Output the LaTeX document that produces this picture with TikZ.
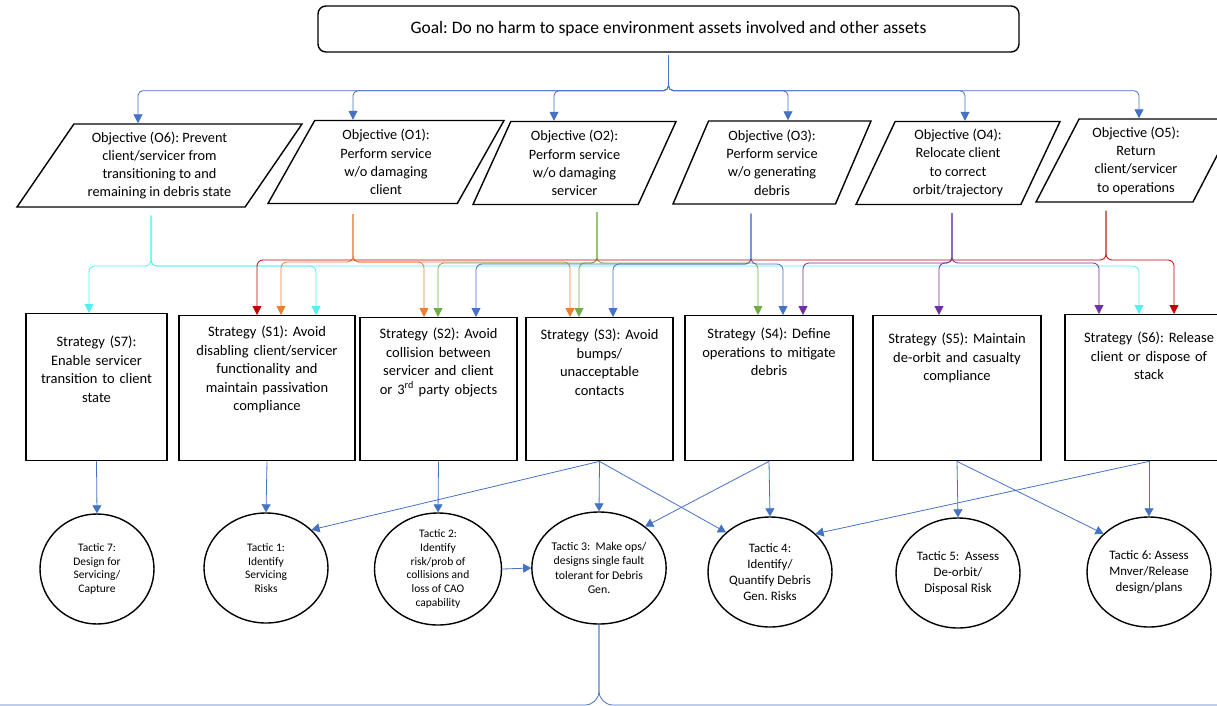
\documentclass[tikz,border=0pt]{standalone}
\usepackage{fontspec}
\setmainfont{Carlito}
\usetikzlibrary{arrows.meta,shapes.geometric}
\definecolor{lnblue}{HTML}{4472C4}
\definecolor{lnorange}{HTML}{ED7D31}
\definecolor{lngreen}{HTML}{70AD47}
\definecolor{lnpurple}{HTML}{7030A0}
\definecolor{lnred}{HTML}{C00000}
\definecolor{lncyan}{HTML}{55EEF2}
\newcommand{\fsz}[2]{\fontsize{#1}{#2}\selectfont}
\frenchspacing

\begin{document}
\begin{tikzpicture}[x=1pt,y=-1pt,
 goalbox/.style={draw,line width=1.4pt,rounded corners=8pt,minimum width=701pt,minimum height=46pt,font=\fsz{17.5}{21}},
 obj/.style={trapezium,draw,line width=1.4pt,trapezium left angle=#1,trapezium right angle=180-#1,
   trapezium stretches body,minimum height=83pt,inner sep=0pt,align=center,font=\fsz{14.3}{18.3}},
 strat/.style={draw,line width=1.4pt,anchor=north,inner sep=0pt,align=center,
   text height=21pt,text depth=124pt,font=\fsz{14.5}{18.5}},
 tac/.style={ellipse,draw,line width=1.4pt,minimum width=124pt,minimum height=110pt,inner sep=0pt,
   align=center,font=\fsz{11.5}{13.7}},
 link/.style={line width=.8pt,lnblue,-{Triangle[length=8pt,width=9pt]}},
 bus/.style={line width=.8pt,rounded corners=6pt,-{Triangle[length=9pt,width=9pt]}}]
\useasboundingbox (0,0) rectangle (1217,706);

% goal
\node[goalbox] (goal) at (668.5,29) {Goal: Do no harm to space environment assets involved and other assets};

% objectives
\node[obj=50,minimum width=285pt] (O6) at (159.5,165.5) {Objective (O6): Prevent\\client/servicer from\\transitioning to and\\remaining in debris state};
\node[obj=54.5,minimum width=236pt] (O1) at (386,162) {Objective (O1):\\Perform service\\w/o damaging\\client};
\node[obj=60,minimum width=203pt] (O2) at (574.5,163) {Objective (O2):\\Perform service\\w/o damaging\\servicer};
\node[obj=61.5,minimum width=198pt] (O3) at (772,162.5) {Objective (O3):\\Perform service\\w/o generating\\debris};
\node[obj=60,minimum width=204pt] (O4) at (958,163) {Objective (O4):\\Relocate client\\to correct\\orbit/trajectory};
\node[obj=57.5,minimum width=200pt] (O5) at (1136,160.5) {Objective (O5):\\Return\\client/servicer\\to operations};

% strategies
\node[strat,text width=141pt,text height=33pt,text depth=114pt] (S7) at (96.5,313) {Strategy (S7):\\Enable servicer\\transition to client\\state};
\node[strat,text width=176pt] (S1) at (267,315) {Strategy (S1): Avoid\\disabling client/servicer\\functionality and\\maintain passivation\\compliance};
\node[strat,text width=157pt,text depth=122pt] (S2) at (438.5,317) {Strategy (S2): Avoid\\collision between\\servicer and client\\or 3\textsuperscript{rd} party objects};
\node[strat,text width=147pt,text height=22pt,text depth=121pt] (S3) at (599.5,317) {Strategy (S3): Avoid\\bumps/\\unacceptable\\contacts};
\node[strat,text width=168pt,text height=23pt,text depth=122pt] (S4) at (769,315) {Strategy (S4): Define\\operations to mitigate\\debris};
\node[strat,text width=168pt,text height=28pt,text depth=117pt] (S5) at (957,315) {Strategy (S5): Maintain\\de-orbit and casualty\\compliance};
\node[strat,text width=168pt,text height=28pt,text depth=118pt] (S6) at (1149,314) {Strategy (S6): Release\\client or dispose of\\stack};

% tactics
\node[tac,minimum width=114pt] (T7) at (97,569) {Tactic 7:\\Design for\\Servicing/\\Capture};
\node[tac] (T1) at (266,568) {Tactic 1:\\Identify\\Servicing\\Risks};
\node[tac,minimum width=127pt,minimum height=112pt] (T2) at (438,569) {Tactic 2:\\Identify\\risk/prob of\\collisions and\\loss of CAO\\capability};
\node[tac,minimum width=130pt,minimum height=112pt,font=\fsz{11.8}{14.3}] (T3) at (599,568) {Tactic 3:~~Make ops/\\designs single fault\\tolerant for Debris\\Gen.};
\node[tac,font=\fsz{12.9}{16}] (T4) at (770,572) {Tactic 4:\\Identify/\\Quantify Debris\\Gen. Risks};
\node[tac,font=\fsz{12.9}{16}] (T5) at (958,573) {Tactic 5:~~Assess\\De-orbit/\\Disposal Risk};
\node[tac,font=\fsz{12.9}{16}] (T6) at (1149,572) {Tactic 6: Assess\\Mnver/Release\\design/plans};

% goal -> objectives
\coordinate (gtop) at ([yshift=-3pt]goal.south);
\coordinate (gbus) at ([yshift=-38pt]goal.south);
\foreach \o/\dx in {O6/-21.5,O1/-33,O2/-20.5,O3/16,O4/7,O5/3}
  \draw[bus,lnblue,rounded corners=5pt] (gtop) -- (gbus) -| ([xshift=\dx pt]\o.north);

% objectives -> strategies
\coordinate (b6) at ([xshift=-8.5pt,yshift=-8pt]O6.south);
\coordinate (b1) at ([xshift=-33pt,yshift=-10pt]O1.south);
\coordinate (b2) at ([xshift=22.5pt,yshift=-7pt]O2.south);
\coordinate (b3) at ([xshift=-21pt,yshift=-9pt]O3.south);
\coordinate (b4) at ([xshift=-6pt,yshift=-8pt]O4.south);
\coordinate (b5) at ([xshift=-30pt,yshift=-8pt]O5.south);
\coordinate (yr) at (0,260);
\coordinate (yo) at (0,262);
\coordinate (yg) at (0,263);
\coordinate (yp) at (0,263);
\coordinate (yb) at (0,264);
\coordinate (yc) at (0,266);
\foreach \b/\y/\s/\dx/\c in {b6/yc/S7/-7.5/lncyan,b6/yc/S1/49/lncyan,b6/yc/S6/-10/lncyan,
  b1/yo/S1/14/lnorange,b1/yo/S2/-14.5/lnorange,b1/yo/S3/-29.5/lnorange,
  b2/yg/S2/-0.5/lngreen,b2/yg/S3/-20.5/lngreen,b2/yg/S4/-11/lngreen,
  b3/yb/S2/37.5/lnblue,b3/yb/S3/13.5/lnblue,b3/yb/S4/14/lnblue,
  b4/yp/S4/34/lnpurple,b4/yp/S5/-18/lnpurple,b4/yp/S6/-50/lnpurple,
  b5/yr/S1/-10/lnred,b5/yr/S6/25/lnred}
  \draw[bus,\c] (\b) -- (\b |- \y) -| ([xshift=\dx pt]\s.north);

% strategies -> tactics
\foreach \s/\t in {S7/T7.north,S1/T1.north,S2/T2.north,S3/T3.north,S3/T1.40,S3/T4.138,
  S4/T3.42,S4/T4.north,S5/T5.north,S5/T6.140,S6/T6.north,S6/T4.40}
  \draw[link] (\s.south) -- (\t);
\draw[link] (T2.east) -- (T3.west);

% tactic 3 onwards
\coordinate (tbus) at (T3.south |- 0,705);
\coordinate (botL) at (-10,705);
\coordinate (botR) at (1230,705);
\draw[lnblue,line width=.8pt,rounded corners=14pt] (T3.south) -- (tbus) -- (botL);
\draw[lnblue,line width=.8pt,rounded corners=14pt] (T3.south) -- (tbus) -- (botR);
\end{tikzpicture}
\end{document}
